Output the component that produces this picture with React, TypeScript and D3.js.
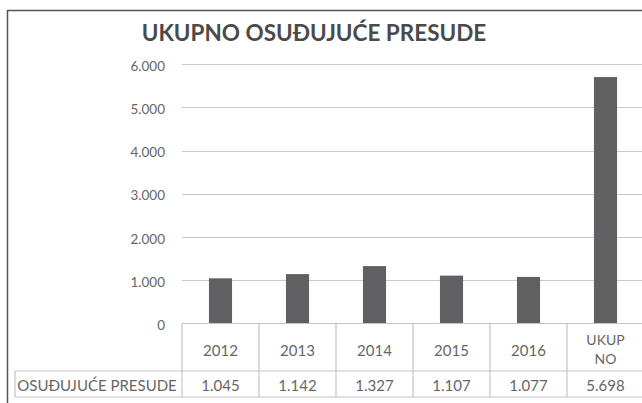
import React from "react";
import * as d3 from "d3";

const categories = ["2012", "2013", "2014", "2015", "2016", "UKUPNO"];
const categoryLines = [["2012"], ["2013"], ["2014"], ["2015"], ["2016"], ["UKUP", "NO"]];
const values = [1045, 1142, 1327, 1107, 1077, 5698];
const valueLabels = ["1.045", "1.142", "1.327", "1.107", "1.077", "5.698"];
const yTicks = [0, 1000, 2000, 3000, 4000, 5000, 6000];
const yTickLabels = ["0", "1.000", "2.000", "3.000", "4.000", "5.000", "6.000"];
const title = "UKUPNO OSUĐUJUĆE PRESUDE";
const seriesName = "OSUĐUJUĆE PRESUDE";

const W = 642;
const H = 403;
const FONT = "Lato, 'Open Sans', sans-serif";

export default function App() {
  const x = d3.scaleBand<string>().domain(categories).range([182, 644]).padding(0);
  const y = d3.scaleLinear().domain([0, 6000]).range([323.5, 64]);
  const bw = x.bandwidth();
  const barW = bw * 0.3;
  const tableTop = y(0);
  const rowDiv = 371;
  const tableBottom = 397;
  const gridColor = "#c9c9c9";
  const cellColor = "#c4c4c4";
  const textColor = "#666666";

  return (
    <svg
      width={W}
      height={H}
      style={{ position: "fixed", left: 0, top: 0, background: "#fff" }}
      fontFamily={FONT}
    >
      <rect x={0} y={0} width={W} height={H} fill="#fff" />
      {/* outer frame */}
      <line x1={7.5} x2={W} y1={10.5} y2={10.5} stroke="#555" strokeWidth={1.5} />
      <line x1={7.5} x2={7.5} y1={10} y2={H} stroke="#555" strokeWidth={1.5} />

      {/* title */}
      <text
        x={314}
        y={41}
        textAnchor="middle"
        fontSize={22.5}
        fontWeight={700}
        fill="#4a4a4a"
      >
        {title}
      </text>

      {/* gridlines */}
      {yTicks.slice(1).map((t) => (
        <line key={t} x1={182} x2={W} y1={Math.round(y(t)) + 0.5} y2={Math.round(y(t)) + 0.5} stroke={gridColor} strokeWidth={1.2} />
      ))}
      {/* y tick labels */}
      {yTicks.map((t, i) => (
        <text key={t} x={165} y={y(t) + 6.5} textAnchor="end" fontSize={13.5} fill={textColor}>
          {yTickLabels[i]}
        </text>
      ))}

      {/* bars */}
      {categories.map((c, i) => (
        <rect
          key={c}
          x={(x(c) as number) + (bw - barW) / 2}
          y={y(values[i])}
          width={barW}
          height={y(0) - y(values[i])}
          fill="#606063"
        />
      ))}

      {/* table */}
      <line x1={182} x2={W} y1={tableTop} y2={tableTop} stroke={cellColor} strokeWidth={1.2} />
      <line x1={15} x2={W} y1={rowDiv} y2={rowDiv} stroke={cellColor} strokeWidth={1.2} />
      <line x1={15} x2={W} y1={tableBottom} y2={tableBottom} stroke={cellColor} strokeWidth={1.2} />
      <line x1={15} x2={15} y1={rowDiv} y2={tableBottom} stroke={cellColor} strokeWidth={1.2} />
      {categories.map((c) => (
        <line
          key={c}
          x1={x(c) as number}
          x2={x(c) as number}
          y1={tableTop}
          y2={tableBottom}
          stroke={cellColor}
          strokeWidth={1.2}
        />
      ))}
      <text x={97} y={390.5} textAnchor="middle" fontSize={15} fill={textColor}>
        {seriesName}
      </text>
      {categories.map((c, i) => {
        const cx = (x(c) as number) + bw / 2;
        const lines = categoryLines[i];
        return (
          <g key={c}>
            {lines.length === 1 ? (
              <text x={cx} y={355.5} textAnchor="middle" fontSize={15} fill={textColor}>
                {lines[0]}
              </text>
            ) : (
              lines.map((l, j) => (
                <text key={j} x={cx} y={345 + j * 19} textAnchor="middle" fontSize={14} fill={textColor}>
                  {l}
                </text>
              ))
            )}
            <text x={cx} y={391} textAnchor="middle" fontSize={15} fill={textColor}>
              {valueLabels[i]}
            </text>
          </g>
        );
      })}
    </svg>
  );
}
